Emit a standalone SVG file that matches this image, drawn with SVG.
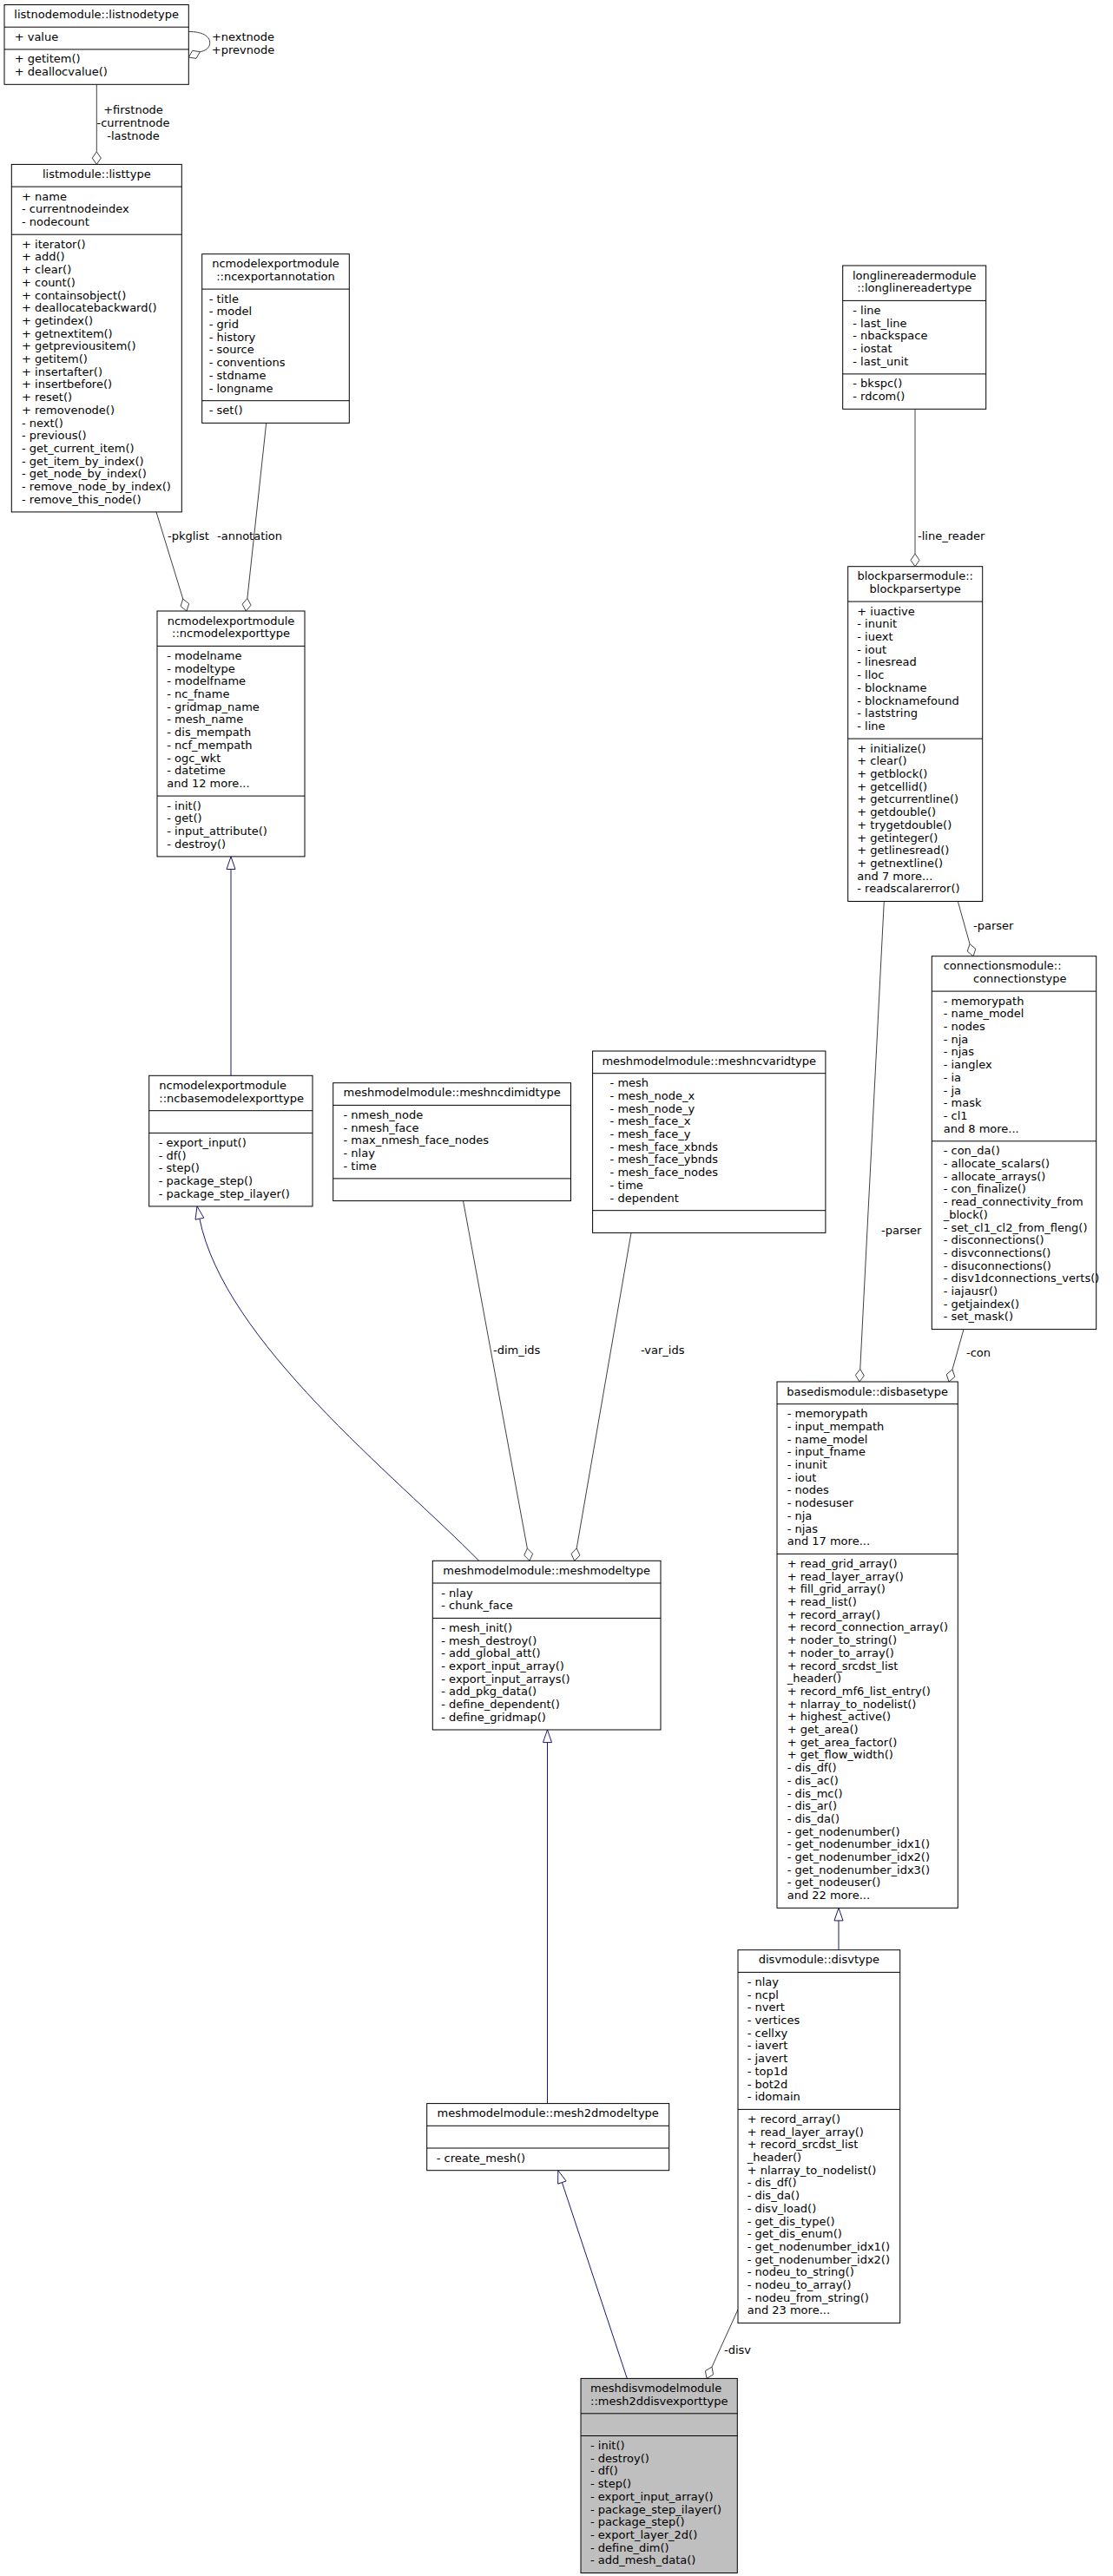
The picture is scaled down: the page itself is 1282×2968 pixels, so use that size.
<svg xmlns="http://www.w3.org/2000/svg" width="1282" height="2968" viewBox="0 0 1282 2968">
<style>
text{font-family:"DejaVu Sans","Liberation Sans",sans-serif;font-size:13px;fill:#000}
.c{text-anchor:middle}
.box{fill:#fff;stroke:#000;stroke-width:1}
.focus{fill:#bfbfbf;stroke:#000;stroke-width:1}
.div{stroke:#000;stroke-width:1}
.agg{fill:none;stroke:#404040;stroke-width:1}
.dia{fill:#fff;stroke:#404040;stroke-width:1}
.inh{fill:none;stroke:#191970;stroke-width:1}
.tri{fill:#fff;stroke:#191970;stroke-width:1}
</style>
<rect width="1282" height="2968" fill="#fff"/>
<g id="connectors">
<line class="agg" x1="111.3" y1="97.3" x2="111.3" y2="174.8"/>
<polygon class="dia" points="111.3,189.4 116.3,182.1 111.3,174.8 106.3,182.1"/>
<text class="c" x="153.5" y="131.3">+firstnode</text>
<text class="c" x="153.5" y="146">-currentnode</text>
<text class="c" x="153.5" y="160.7">-lastnode</text>
<path class="agg" d="M217.3,36.4 C232,36.5 242,41 241.7,49.7 C241.5,55 237,58.5 230.4,59.7"/>
<polygon class="dia" points="217.3,66 226,67.35 230.4,59.7 221.7,58.35"/>
<text class="c" x="280" y="46.7">+nextnode</text>
<text class="c" x="280" y="62">+prevnode</text>
<line class="agg" x1="180" y1="589.9" x2="210.72" y2="690.04"/>
<polygon class="dia" points="215,704 217.64,695.55 210.72,690.04 208.08,698.49"/>
<text x="193" y="622">-pkglist</text>
<line class="agg" x1="306.7" y1="487.4" x2="284.87" y2="689.48"/>
<polygon class="dia" points="283.3,704 289.06,697.28 284.87,689.48 279.12,696.2"/>
<text x="250" y="622">-annotation</text>
<line class="inh" x1="266" y1="1001.5" x2="266" y2="1239.3"/>
<polygon class="tri" points="266,986.9 271,1001.5 261,1001.5"/>
<path class="inh" d="M229.9,1404.2 C258,1545 455,1700 551.7,1798.3"/>
<polygon class="tri" points="227,1389.9 234.8,1403.2 225,1405.2"/>
<line class="agg" x1="533.5" y1="1383.6" x2="607.35" y2="1783.94"/>
<polygon class="dia" points="610,1798.3 613.6,1790.21 607.35,1783.94 603.76,1792.03"/>
<text x="568" y="1560">-dim_ids</text>
<line class="agg" x1="727" y1="1420.4" x2="664.19" y2="1783.91"/>
<polygon class="dia" points="661.7,1798.3 667.88,1791.95 664.19,1783.91 658.02,1790.25"/>
<text x="738" y="1560">-var_ids</text>
<line class="inh" x1="630.5" y1="2007.6" x2="630.5" y2="2423.6"/>
<polygon class="tri" points="630.5,1993 635.5,2007.6 625.5,2007.6"/>
<line class="inh" x1="722.3" y1="2740.4" x2="647.4" y2="2514.56"/>
<polygon class="tri" points="642.8,2500.7 652.15,2512.99 642.65,2516.13"/>
<line class="inh" x1="966" y1="2212.9" x2="966" y2="2246.7"/>
<polygon class="tri" points="966,2198.3 971,2212.9 961,2212.9"/>
<line class="agg" x1="850" y1="2661" x2="820.03" y2="2727.1"/>
<polygon class="dia" points="814,2740.4 812.45,2731.68 820.03,2727.1 821.55,2735.82"/>
<text x="834" y="2712">-disv</text>
<line class="agg" x1="1054" y1="471.3" x2="1054" y2="638.1"/>
<polygon class="dia" points="1054,652.7 1059,645.4 1054,638.1 1049,645.4"/>
<text x="1057" y="622">-line_reader</text>
<line class="agg" x1="1103.3" y1="1038.5" x2="1117.06" y2="1087.64"/>
<polygon class="dia" points="1121,1101.7 1123.85,1093.32 1117.06,1087.64 1114.21,1096.02"/>
<text x="1121" y="1071">-parser</text>
<line class="agg" x1="1018.3" y1="1038.5" x2="990.75" y2="1577.42"/>
<polygon class="dia" points="990,1592 995.36,1584.97 990.75,1577.42 985.38,1584.45"/>
<text x="1015" y="1422">-parser</text>
<line class="agg" x1="1110" y1="1531.6" x2="1096.96" y2="1577.95"/>
<polygon class="dia" points="1093,1592 1099.79,1586.32 1096.96,1577.95 1090.17,1583.62"/>
<text x="1113" y="1563">-con</text>
</g>
<g id="listnodetype">
<rect class="box" x="5" y="5.5" width="212.3" height="91.8"/>
<line class="div" x1="5" y1="31.2" x2="217.3" y2="31.2"/>
<line class="div" x1="5" y1="56.9" x2="217.3" y2="56.9"/>
<text class="c" x="111.15" y="21">listnodemodule::listnodetype</text>
<text x="16.7" y="46.7">+ value</text>
<text><tspan x="16.7" y="72.4">+ getitem()</tspan><tspan x="16.7" dy="14.7">+ deallocvalue()</tspan></text>
</g>
<g id="listtype">
<rect class="box" x="13.3" y="189.4" width="196" height="400.5"/>
<line class="div" x1="13.3" y1="215.1" x2="209.3" y2="215.1"/>
<line class="div" x1="13.3" y1="270.2" x2="209.3" y2="270.2"/>
<text class="c" x="111.3" y="204.9">listmodule::listtype</text>
<text><tspan x="25" y="230.6">+ name</tspan><tspan x="25" dy="14.7">- currentnodeindex</tspan><tspan x="25" dy="14.7">- nodecount</tspan></text>
<text><tspan x="25" y="285.7">+ iterator()</tspan><tspan x="25" dy="14.7">+ add()</tspan><tspan x="25" dy="14.7">+ clear()</tspan><tspan x="25" dy="14.7">+ count()</tspan><tspan x="25" dy="14.7">+ containsobject()</tspan><tspan x="25" dy="14.7">+ deallocatebackward()</tspan><tspan x="25" dy="14.7">+ getindex()</tspan><tspan x="25" dy="14.7">+ getnextitem()</tspan><tspan x="25" dy="14.7">+ getpreviousitem()</tspan><tspan x="25" dy="14.7">+ getitem()</tspan><tspan x="25" dy="14.7">+ insertafter()</tspan><tspan x="25" dy="14.7">+ insertbefore()</tspan><tspan x="25" dy="14.7">+ reset()</tspan><tspan x="25" dy="14.7">+ removenode()</tspan><tspan x="25" dy="14.7">- next()</tspan><tspan x="25" dy="14.7">- previous()</tspan><tspan x="25" dy="14.7">- get_current_item()</tspan><tspan x="25" dy="14.7">- get_item_by_index()</tspan><tspan x="25" dy="14.7">- get_node_by_index()</tspan><tspan x="25" dy="14.7">- remove_node_by_index()</tspan><tspan x="25" dy="14.7">- remove_this_node()</tspan></text>
</g>
<g id="ncexportannotation">
<rect class="box" x="232.7" y="292.7" width="169.6" height="194.7"/>
<line class="div" x1="232.7" y1="333.1" x2="402.3" y2="333.1"/>
<line class="div" x1="232.7" y1="461.7" x2="402.3" y2="461.7"/>
<text class="c"><tspan x="317.5" y="308.2">ncmodelexportmodule</tspan><tspan x="317.5" dy="14.7">::ncexportannotation</tspan></text>
<text><tspan x="240.7" y="348.6">- title</tspan><tspan x="240.7" dy="14.7">- model</tspan><tspan x="240.7" dy="14.7">- grid</tspan><tspan x="240.7" dy="14.7">- history</tspan><tspan x="240.7" dy="14.7">- source</tspan><tspan x="240.7" dy="14.7">- conventions</tspan><tspan x="240.7" dy="14.7">- stdname</tspan><tspan x="240.7" dy="14.7">- longname</tspan></text>
<text x="240.7" y="477.2">- set()</text>
</g>
<g id="ncmodelexporttype">
<rect class="box" x="181" y="704" width="170" height="282.9"/>
<line class="div" x1="181" y1="744.4" x2="351" y2="744.4"/>
<line class="div" x1="181" y1="917.1" x2="351" y2="917.1"/>
<text class="c"><tspan x="266" y="719.5">ncmodelexportmodule</tspan><tspan x="266" dy="14.7">::ncmodelexporttype</tspan></text>
<text><tspan x="192.3" y="759.9">- modelname</tspan><tspan x="192.3" dy="14.7">- modeltype</tspan><tspan x="192.3" dy="14.7">- modelfname</tspan><tspan x="192.3" dy="14.7">- nc_fname</tspan><tspan x="192.3" dy="14.7">- gridmap_name</tspan><tspan x="192.3" dy="14.7">- mesh_name</tspan><tspan x="192.3" dy="14.7">- dis_mempath</tspan><tspan x="192.3" dy="14.7">- ncf_mempath</tspan><tspan x="192.3" dy="14.7">- ogc_wkt</tspan><tspan x="192.3" dy="14.7">- datetime</tspan><tspan x="192.3" dy="14.7">and 12 more...</tspan></text>
<text><tspan x="192.3" y="932.6">- init()</tspan><tspan x="192.3" dy="14.7">- get()</tspan><tspan x="192.3" dy="14.7">- input_attribute()</tspan><tspan x="192.3" dy="14.7">- destroy()</tspan></text>
</g>
<g id="ncbasemodelexporttype">
<rect class="box" x="171.7" y="1239.3" width="188.3" height="150.6"/>
<line class="div" x1="171.7" y1="1279.7" x2="360" y2="1279.7"/>
<line class="div" x1="171.7" y1="1305.4" x2="360" y2="1305.4"/>
<text><tspan x="183.3" y="1254.8">ncmodelexportmodule</tspan><tspan x="183.3" dy="14.7">::ncbasemodelexporttype</tspan></text>
<text><tspan x="182.7" y="1320.9">- export_input()</tspan><tspan x="182.7" dy="14.7">- df()</tspan><tspan x="182.7" dy="14.7">- step()</tspan><tspan x="182.7" dy="14.7">- package_step()</tspan><tspan x="182.7" dy="14.7">- package_step_ilayer()</tspan></text>
</g>
<g id="meshncdimidtype">
<rect class="box" x="383.7" y="1247.7" width="273.8" height="135.9"/>
<line class="div" x1="383.7" y1="1273.4" x2="657.5" y2="1273.4"/>
<line class="div" x1="383.7" y1="1357.9" x2="657.5" y2="1357.9"/>
<text class="c" x="520.6" y="1263.2">meshmodelmodule::meshncdimidtype</text>
<text><tspan x="395.5" y="1288.9">- nmesh_node</tspan><tspan x="395.5" dy="14.7">- nmesh_face</tspan><tspan x="395.5" dy="14.7">- max_nmesh_face_nodes</tspan><tspan x="395.5" dy="14.7">- nlay</tspan><tspan x="395.5" dy="14.7">- time</tspan></text>
</g>
<g id="meshncvaridtype">
<rect class="box" x="682.6" y="1211" width="268.3" height="209.4"/>
<line class="div" x1="682.6" y1="1236.7" x2="950.9" y2="1236.7"/>
<line class="div" x1="682.6" y1="1394.7" x2="950.9" y2="1394.7"/>
<text class="c" x="816.75" y="1226.5">meshmodelmodule::meshncvaridtype</text>
<text><tspan x="702.6" y="1252.2">- mesh</tspan><tspan x="702.6" dy="14.7">- mesh_node_x</tspan><tspan x="702.6" dy="14.7">- mesh_node_y</tspan><tspan x="702.6" dy="14.7">- mesh_face_x</tspan><tspan x="702.6" dy="14.7">- mesh_face_y</tspan><tspan x="702.6" dy="14.7">- mesh_face_xbnds</tspan><tspan x="702.6" dy="14.7">- mesh_face_ybnds</tspan><tspan x="702.6" dy="14.7">- mesh_face_nodes</tspan><tspan x="702.6" dy="14.7">- time</tspan><tspan x="702.6" dy="14.7">- dependent</tspan></text>
</g>
<g id="meshmodeltype">
<rect class="box" x="498.3" y="1798.3" width="262.7" height="194.7"/>
<line class="div" x1="498.3" y1="1824" x2="761" y2="1824"/>
<line class="div" x1="498.3" y1="1864.4" x2="761" y2="1864.4"/>
<text class="c" x="629.65" y="1813.8">meshmodelmodule::meshmodeltype</text>
<text><tspan x="508.3" y="1839.5">- nlay</tspan><tspan x="508.3" dy="14.7">- chunk_face</tspan></text>
<text><tspan x="508.3" y="1879.9">- mesh_init()</tspan><tspan x="508.3" dy="14.7">- mesh_destroy()</tspan><tspan x="508.3" dy="14.7">- add_global_att()</tspan><tspan x="508.3" dy="14.7">- export_input_array()</tspan><tspan x="508.3" dy="14.7">- export_input_arrays()</tspan><tspan x="508.3" dy="14.7">- add_pkg_data()</tspan><tspan x="508.3" dy="14.7">- define_dependent()</tspan><tspan x="508.3" dy="14.7">- define_gridmap()</tspan></text>
</g>
<g id="mesh2dmodeltype">
<rect class="box" x="491.7" y="2423.6" width="279" height="77.1"/>
<line class="div" x1="491.7" y1="2449.3" x2="770.7" y2="2449.3"/>
<line class="div" x1="491.7" y1="2475" x2="770.7" y2="2475"/>
<text class="c" x="631.2" y="2439.1">meshmodelmodule::mesh2dmodeltype</text>
<text x="502.7" y="2490.5">- create_mesh()</text>
</g>
<g id="mesh2ddisvexporttype">
<rect class="focus" x="669" y="2740.4" width="180.3" height="224.1"/>
<line class="div" x1="669" y1="2780.8" x2="849.3" y2="2780.8"/>
<line class="div" x1="669" y1="2806.5" x2="849.3" y2="2806.5"/>
<text><tspan x="680" y="2755.9">meshdisvmodelmodule</tspan><tspan x="680" dy="14.7">::mesh2ddisvexporttype</tspan></text>
<text><tspan x="680" y="2822">- init()</tspan><tspan x="680" dy="14.7">- destroy()</tspan><tspan x="680" dy="14.7">- df()</tspan><tspan x="680" dy="14.7">- step()</tspan><tspan x="680" dy="14.7">- export_input_array()</tspan><tspan x="680" dy="14.7">- package_step_ilayer()</tspan><tspan x="680" dy="14.7">- package_step()</tspan><tspan x="680" dy="14.7">- export_layer_2d()</tspan><tspan x="680" dy="14.7">- define_dim()</tspan><tspan x="680" dy="14.7">- add_mesh_data()</tspan></text>
</g>
<g id="longlinereadertype">
<rect class="box" x="970.7" y="306" width="165" height="165.3"/>
<line class="div" x1="970.7" y1="346.4" x2="1135.7" y2="346.4"/>
<line class="div" x1="970.7" y1="430.9" x2="1135.7" y2="430.9"/>
<text class="c"><tspan x="1053.2" y="321.5">longlinereadermodule</tspan><tspan x="1053.2" dy="14.7">::longlinereadertype</tspan></text>
<text><tspan x="982.3" y="361.9">- line</tspan><tspan x="982.3" dy="14.7">- last_line</tspan><tspan x="982.3" dy="14.7">- nbackspace</tspan><tspan x="982.3" dy="14.7">- iostat</tspan><tspan x="982.3" dy="14.7">- last_unit</tspan></text>
<text><tspan x="982.3" y="446.4">- bkspc()</tspan><tspan x="982.3" dy="14.7">- rdcom()</tspan></text>
</g>
<g id="blockparsertype">
<rect class="box" x="976.7" y="652.7" width="155" height="385.8"/>
<line class="div" x1="976.7" y1="693.1" x2="1131.7" y2="693.1"/>
<line class="div" x1="976.7" y1="851.1" x2="1131.7" y2="851.1"/>
<text class="c"><tspan x="1054.2" y="668.2">blockparsermodule::</tspan><tspan x="1054.2" dy="14.7">blockparsertype</tspan></text>
<text><tspan x="987.3" y="708.6">+ iuactive</tspan><tspan x="987.3" dy="14.7">- inunit</tspan><tspan x="987.3" dy="14.7">- iuext</tspan><tspan x="987.3" dy="14.7">- iout</tspan><tspan x="987.3" dy="14.7">- linesread</tspan><tspan x="987.3" dy="14.7">- lloc</tspan><tspan x="987.3" dy="14.7">- blockname</tspan><tspan x="987.3" dy="14.7">- blocknamefound</tspan><tspan x="987.3" dy="14.7">- laststring</tspan><tspan x="987.3" dy="14.7">- line</tspan></text>
<text><tspan x="987.3" y="866.6">+ initialize()</tspan><tspan x="987.3" dy="14.7">+ clear()</tspan><tspan x="987.3" dy="14.7">+ getblock()</tspan><tspan x="987.3" dy="14.7">+ getcellid()</tspan><tspan x="987.3" dy="14.7">+ getcurrentline()</tspan><tspan x="987.3" dy="14.7">+ getdouble()</tspan><tspan x="987.3" dy="14.7">+ trygetdouble()</tspan><tspan x="987.3" dy="14.7">+ getinteger()</tspan><tspan x="987.3" dy="14.7">+ getlinesread()</tspan><tspan x="987.3" dy="14.7">+ getnextline()</tspan><tspan x="987.3" dy="14.7">and 7 more...</tspan><tspan x="987.3" dy="14.7">- readscalarerror()</tspan></text>
</g>
<g id="connectionstype">
<rect class="box" x="1073.3" y="1101.7" width="189.4" height="429.9"/>
<line class="div" x1="1073.3" y1="1142.1" x2="1262.7" y2="1142.1"/>
<line class="div" x1="1073.3" y1="1314.8" x2="1262.7" y2="1314.8"/>
<text><tspan x="1086.7" y="1117.2">connectionsmodule::</tspan><tspan x="1121" dy="14.7">connectionstype</tspan></text>
<text><tspan x="1086.7" y="1157.6">- memorypath</tspan><tspan x="1086.7" dy="14.7">- name_model</tspan><tspan x="1086.7" dy="14.7">- nodes</tspan><tspan x="1086.7" dy="14.7">- nja</tspan><tspan x="1086.7" dy="14.7">- njas</tspan><tspan x="1086.7" dy="14.7">- ianglex</tspan><tspan x="1086.7" dy="14.7">- ia</tspan><tspan x="1086.7" dy="14.7">- ja</tspan><tspan x="1086.7" dy="14.7">- mask</tspan><tspan x="1086.7" dy="14.7">- cl1</tspan><tspan x="1086.7" dy="14.7">and 8 more...</tspan></text>
<text><tspan x="1086.7" y="1330.3">- con_da()</tspan><tspan x="1086.7" dy="14.7">- allocate_scalars()</tspan><tspan x="1086.7" dy="14.7">- allocate_arrays()</tspan><tspan x="1086.7" dy="14.7">- con_finalize()</tspan><tspan x="1086.7" dy="14.7">- read_connectivity_from</tspan><tspan x="1086.7" dy="14.7">_block()</tspan><tspan x="1086.7" dy="14.7">- set_cl1_cl2_from_fleng()</tspan><tspan x="1086.7" dy="14.7">- disconnections()</tspan><tspan x="1086.7" dy="14.7">- disvconnections()</tspan><tspan x="1086.7" dy="14.7">- disuconnections()</tspan><tspan x="1086.7" dy="14.7">- disv1dconnections_verts()</tspan><tspan x="1086.7" dy="14.7">- iajausr()</tspan><tspan x="1086.7" dy="14.7">- getjaindex()</tspan><tspan x="1086.7" dy="14.7">- set_mask()</tspan></text>
</g>
<g id="disbasetype">
<rect class="box" x="895" y="1592" width="208.3" height="606.3"/>
<line class="div" x1="895" y1="1617.7" x2="1103.3" y2="1617.7"/>
<line class="div" x1="895" y1="1790.4" x2="1103.3" y2="1790.4"/>
<text class="c" x="999.15" y="1607.5">basedismodule::disbasetype</text>
<text><tspan x="906.7" y="1633.2">- memorypath</tspan><tspan x="906.7" dy="14.7">- input_mempath</tspan><tspan x="906.7" dy="14.7">- name_model</tspan><tspan x="906.7" dy="14.7">- input_fname</tspan><tspan x="906.7" dy="14.7">- inunit</tspan><tspan x="906.7" dy="14.7">- iout</tspan><tspan x="906.7" dy="14.7">- nodes</tspan><tspan x="906.7" dy="14.7">- nodesuser</tspan><tspan x="906.7" dy="14.7">- nja</tspan><tspan x="906.7" dy="14.7">- njas</tspan><tspan x="906.7" dy="14.7">and 17 more...</tspan></text>
<text><tspan x="906.7" y="1805.9">+ read_grid_array()</tspan><tspan x="906.7" dy="14.7">+ read_layer_array()</tspan><tspan x="906.7" dy="14.7">+ fill_grid_array()</tspan><tspan x="906.7" dy="14.7">+ read_list()</tspan><tspan x="906.7" dy="14.7">+ record_array()</tspan><tspan x="906.7" dy="14.7">+ record_connection_array()</tspan><tspan x="906.7" dy="14.7">+ noder_to_string()</tspan><tspan x="906.7" dy="14.7">+ noder_to_array()</tspan><tspan x="906.7" dy="14.7">+ record_srcdst_list</tspan><tspan x="906.7" dy="14.7">_header()</tspan><tspan x="906.7" dy="14.7">+ record_mf6_list_entry()</tspan><tspan x="906.7" dy="14.7">+ nlarray_to_nodelist()</tspan><tspan x="906.7" dy="14.7">+ highest_active()</tspan><tspan x="906.7" dy="14.7">+ get_area()</tspan><tspan x="906.7" dy="14.7">+ get_area_factor()</tspan><tspan x="906.7" dy="14.7">+ get_flow_width()</tspan><tspan x="906.7" dy="14.7">- dis_df()</tspan><tspan x="906.7" dy="14.7">- dis_ac()</tspan><tspan x="906.7" dy="14.7">- dis_mc()</tspan><tspan x="906.7" dy="14.7">- dis_ar()</tspan><tspan x="906.7" dy="14.7">- dis_da()</tspan><tspan x="906.7" dy="14.7">- get_nodenumber()</tspan><tspan x="906.7" dy="14.7">- get_nodenumber_idx1()</tspan><tspan x="906.7" dy="14.7">- get_nodenumber_idx2()</tspan><tspan x="906.7" dy="14.7">- get_nodenumber_idx3()</tspan><tspan x="906.7" dy="14.7">- get_nodeuser()</tspan><tspan x="906.7" dy="14.7">and 22 more...</tspan></text>
</g>
<g id="disvtype">
<rect class="box" x="850" y="2246.7" width="186.7" height="429.9"/>
<line class="div" x1="850" y1="2272.4" x2="1036.7" y2="2272.4"/>
<line class="div" x1="850" y1="2430.4" x2="1036.7" y2="2430.4"/>
<text class="c" x="943.35" y="2262.2">disvmodule::disvtype</text>
<text><tspan x="860.7" y="2287.9">- nlay</tspan><tspan x="860.7" dy="14.7">- ncpl</tspan><tspan x="860.7" dy="14.7">- nvert</tspan><tspan x="860.7" dy="14.7">- vertices</tspan><tspan x="860.7" dy="14.7">- cellxy</tspan><tspan x="860.7" dy="14.7">- iavert</tspan><tspan x="860.7" dy="14.7">- javert</tspan><tspan x="860.7" dy="14.7">- top1d</tspan><tspan x="860.7" dy="14.7">- bot2d</tspan><tspan x="860.7" dy="14.7">- idomain</tspan></text>
<text><tspan x="860.7" y="2445.9">+ record_array()</tspan><tspan x="860.7" dy="14.7">+ read_layer_array()</tspan><tspan x="860.7" dy="14.7">+ record_srcdst_list</tspan><tspan x="860.7" dy="14.7">_header()</tspan><tspan x="860.7" dy="14.7">+ nlarray_to_nodelist()</tspan><tspan x="860.7" dy="14.7">- dis_df()</tspan><tspan x="860.7" dy="14.7">- dis_da()</tspan><tspan x="860.7" dy="14.7">- disv_load()</tspan><tspan x="860.7" dy="14.7">- get_dis_type()</tspan><tspan x="860.7" dy="14.7">- get_dis_enum()</tspan><tspan x="860.7" dy="14.7">- get_nodenumber_idx1()</tspan><tspan x="860.7" dy="14.7">- get_nodenumber_idx2()</tspan><tspan x="860.7" dy="14.7">- nodeu_to_string()</tspan><tspan x="860.7" dy="14.7">- nodeu_to_array()</tspan><tspan x="860.7" dy="14.7">- nodeu_from_string()</tspan><tspan x="860.7" dy="14.7">and 23 more...</tspan></text>
</g>
</svg>
